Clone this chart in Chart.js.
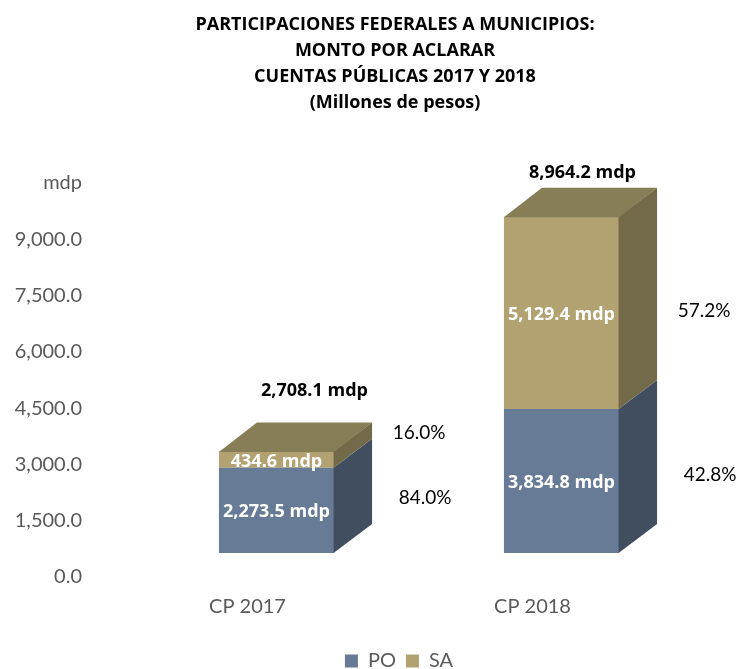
<!DOCTYPE html>
<html>
<head>
<meta charset="utf-8">
<script src="https://cdn.jsdelivr.net/npm/chart.js@4"></script>
<style>
body{margin:0;background:#fff;}
</style>
</head>
<body>
<canvas id="myChart" width="737" height="669"></canvas>
<script>
var categories = ["CP 2017", "CP 2018"];
var poValues = [2273.5, 3834.8];
var saValues = [434.6, 5129.4];
var yTicks = [0, 1500, 3000, 4500, 6000, 7500, 9000, 10500];
var titleLines = [
    "PARTICIPACIONES FEDERALES A MUNICIPIOS:",
    "MONTO POR ACLARAR",
    "CUENTAS PÚBLICAS 2017 Y 2018",
    "(Millones de pesos)"
];

// colores: frente, lado y tapa
var frontColors = ['#677B96', '#B2A271'];
var sideColors = ['#414E60', '#726A49'];
var topColor = '#877D56';
var depthX = 38, depthY = -29;

// desplazamientos de las etiquetas (a mano, como en el original)
var totalDx = [38, 21], totalDy = [-32, -15];
var pctDx = [53, 47];
var pctDy = [[-12, -6], [-27, -2]];
// titulo y leyenda centrados sobre el area de barras, no sobre el canvas
var titleShift = 39, legendShift = 43;

function fmt(v){
    return v.toLocaleString('en-US', {minimumFractionDigits: 1, maximumFractionDigits: 1});
}

var cubePlugin = {
    id: 'cube',
    afterLayout: function(chart){
        chart.titleBlock.left += titleShift;
        chart.titleBlock.right += titleShift;
        chart.legend.left += legendShift;
        chart.legend.right += legendShift;
    },
    afterDatasetsDraw: function(chart){
        var ctx = chart.ctx;
        var last = chart.data.datasets.length - 1;
        ctx.save();
        // caras laterales y tapa
        chart.data.datasets.forEach(function(ds, d){
            var meta = chart.getDatasetMeta(d);
            meta.data.forEach(function(bar){
                var p = bar.getProps(['x', 'y', 'base', 'width'], true);
                var l = p.x - p.width / 2, r = p.x + p.width / 2;
                var top = Math.min(p.y, p.base), bottom = Math.max(p.y, p.base);
                ctx.fillStyle = sideColors[d];
                ctx.beginPath();
                ctx.moveTo(r - 0.5, top);
                ctx.lineTo(r + depthX, top + depthY);
                ctx.lineTo(r + depthX, bottom + depthY);
                ctx.lineTo(r - 0.5, bottom);
                ctx.closePath();
                ctx.fill();
                if (d == last) {
                    ctx.fillStyle = topColor;
                    ctx.beginPath();
                    ctx.moveTo(l, top + 0.5);
                    ctx.lineTo(l + depthX, top + depthY);
                    ctx.lineTo(r + depthX, top + depthY);
                    ctx.lineTo(r, top + 0.5);
                    ctx.closePath();
                    ctx.fill();
                }
            });
        });

        // etiquetas
        ctx.textBaseline = 'middle';
        chart.data.datasets.forEach(function(ds, d){
            var meta = chart.getDatasetMeta(d);
            meta.data.forEach(function(bar, i){
                var p = bar.getProps(['x', 'y', 'base', 'width'], true);
                var r = p.x + p.width / 2;
                var mid = (p.y + p.base) / 2;
                var total = poValues[i] + saValues[i];
                ctx.textAlign = 'center';
                ctx.fillStyle = '#fff';
                ctx.font = 'bold 18px "Open Sans"';
                ctx.fillText(fmt(ds.data[i]) + ' mdp', p.x, mid + 2);
                ctx.fillStyle = '#000';
                ctx.font = '19px Lato';
                ctx.fillText(fmt(ds.data[i] / total * 100) + '%', r + depthX + pctDx[d], mid + pctDy[d][i]);
                if (d == last) {
                    ctx.font = 'bold 18px "Open Sans"';
                    ctx.fillText(fmt(total) + ' mdp', p.x + totalDx[i], p.y + depthY + totalDy[i]);
                }
            });
        });
        ctx.restore();
    }
};

var ctx = document.getElementById('myChart').getContext('2d');
var myChart = new Chart(ctx, {
    type: 'bar',
    data: {
        labels: categories,
        datasets: [
            {label: 'PO', data: poValues, backgroundColor: frontColors[0], borderWidth: 0},
            {label: 'SA', data: saValues, backgroundColor: frontColors[1], borderWidth: 0}
        ]
    },
    options: {
        responsive: false,
        animation: false,
        devicePixelRatio: 1,
        barPercentage: 0.404,
        categoryPercentage: 1,
        layout: {
            padding: {top: 0, left: 8, right: 33, bottom: -12}
        },
        plugins: {
            title: {
                display: true,
                text: titleLines,
                color: '#000',
                font: {family: 'Open Sans', size: 18, weight: 'bold', lineHeight: 1.4444},
                padding: {top: 12, bottom: 43}
            },
            legend: {
                position: 'bottom',
                labels: {
                    font: {family: 'Lato', size: 20},
                    color: '#595959',
                    boxWidth: 13,
                    boxHeight: 13,
                    padding: 10
                }
            },
            tooltip: {enabled: false}
        },
        scales: {
            x: {
                stacked: true,
                grid: {display: false, drawTicks: false},
                border: {display: false},
                ticks: {
                    font: {family: 'Lato', size: 20},
                    color: '#595959',
                    padding: 42,
                    labelOffset: -29
                },
                afterFit: function(scale){ scale.height = 88; }
            },
            y: {
                stacked: true,
                min: 0,
                max: 10500,
                grid: {display: false, drawTicks: false},
                border: {display: false},
                afterBuildTicks: function(scale){
                    scale.ticks = yTicks.map(function(v){ return {value: v}; });
                },
                ticks: {
                    font: {family: 'Lato', size: 20},
                    color: '#595959',
                    padding: 52,
                    labelOffset: 24,
                    callback: function(v){ return v == 10500 ? 'mdp' : fmt(v); }
                },
                afterFit: function(scale){ scale.width = 126; }
            }
        }
    },
    plugins: [cubePlugin]
});
</script>
</body>
</html>
